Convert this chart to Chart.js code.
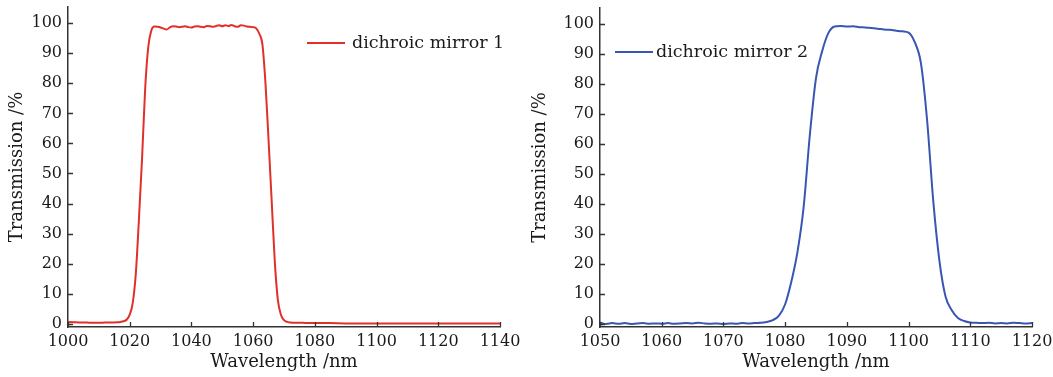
<!DOCTYPE html>
<html>
<head>
<meta charset="utf-8">
<script src="https://cdn.jsdelivr.net/npm/chart.js@4.4.1/dist/chart.umd.min.js"></script>
<style>
  html, body { margin: 0; padding: 0; background: #ffffff; }
  body { width: 1053px; height: 377px; position: relative; overflow: hidden; }
  #w1 { position: absolute; left: 0; top: 0; width: 525px; height: 377px; }
  #w2 { position: absolute; left: 525px; top: 0; width: 528px; height: 377px; }
</style>
</head>
<body>
<div id="w1"><canvas id="c1" width="525" height="377"></canvas></div>
<div id="w2"><canvas id="c2" width="528" height="377"></canvas></div>
<script>
// ---------- data ----------
const seriesLabel1 = "dichroic mirror 1";
const seriesLabel2 = "dichroic mirror 2";

const wavelength1 = [1000,1002,1004,1006,1008,1010,1012,1014,1016,
  1017,1018,1019,1020,1021,1022,1023,1024,1025,1026,1027,1028,1029,1030,
  1031,1032,1033,1034,1035,1036,1037,1038,1039,1040,1041,1042,1043,1044,
  1045,1046,1047,1048,1049,1050,1051,1052,1053,1054,1055,1056,1057,1058,
  1059,1060,1061,1062,1063,1064,1065,1066,1067,1068,1069,1070,1071,1072,
  1074,1076,1078,1080,1085,1090,1095,1100,1105,1110,1115,1120,1125,1130,1135,1140];
const transmission1 = [0.6,0.5,0.4,0.4,0.3,0.3,0.4,0.4,0.5,
  0.6,0.8,1.3,3,7,17,35,55,78,92,97.6,98.9,98.8,98.6,
  98.2,97.9,98.6,99.0,98.9,98.7,98.8,99.0,98.7,98.6,98.9,99.0,98.8,98.7,
  99.1,99.0,98.8,99.1,99.3,99.0,99.3,99.1,99.4,99.0,98.8,99.3,99.2,98.9,
  98.8,98.7,98.3,96.5,93,80,61,41,21,8,3,1.2,0.6,0.4,
  0.3,0.3,0.2,0.2,0.2,0.1,0.1,0.1,0.1,0.1,0.1,0.1,0.1,0.1,0.1,0.1];

const wavelength2 = [1050,1051,1052,1053,1054,1055,1056,1057,1058,1059,
  1060,1061,1062,1063,1064,1065,1066,1067,1068,1069,
  1070,1071,1072,1073,1074,1075,1076,1077,1078,1079,
  1080,1081,1082,1083,1084,1085,1086,1087,1088,1089,
  1090,1091,1092,1093,1094,1095,1096,1097,1098,1099,
  1100,1101,1102,1103,1104,1105,1106,1107,1108,1109,
  1110,1111,1112,1113,1114,1115,1116,1117,1118,1119,1120];
const transmission2 = [0.4,-0.1,0.2,0.0,0.2,-0.1,0.1,0.2,0.0,0.1,
  0.0,0.2,0.0,0.1,0.2,0.1,0.3,0.1,0.0,0.1,
  -0.1,0.1,0.0,0.2,0.1,0.2,0.3,0.6,1.2,2.7,
  6.5,14,24,39,63,82,91,97,99.2,99.4,
  99.2,99.3,99.0,98.9,98.7,98.5,98.2,98.1,97.8,97.6,
  97.2,94,87,68,41,21,9,4.5,1.9,0.9,
  0.4,0.3,0.2,0.3,0.1,0.2,0.1,0.3,0.2,0.1,0.2];

const yTickValues = [0,10,20,30,40,50,60,70,80,90,100];
const xTickValues1 = [1000,1020,1040,1060,1080,1100,1120,1140];
const xTickValues2 = [1050,1060,1070,1080,1090,1100,1110,1120];

const xTitle = "Wavelength /nm";
const yTitle = "Transmission /%";

// ---------- styling ----------
const FONT = "'DejaVu Serif', 'Liberation Serif', serif";
const TEXT = "#1a1a1a";
const AXIS = "#333333";

const insideTicks = {
  id: 'insideTicks',
  afterDraw(chart, args, opts) {
    const ctx = chart.ctx, a = chart.chartArea;
    const xs = chart.scales.x, ys = chart.scales.y;
    ctx.save();
    ctx.strokeStyle = opts.color; ctx.lineWidth = opts.width;
    ctx.beginPath();
    xs.ticks.forEach(t => {
      const px = Math.round(xs.getPixelForValue(t.value)) + 0.5;
      ctx.moveTo(px, a.bottom); ctx.lineTo(px, a.bottom - opts.length);
    });
    ys.ticks.forEach(t => {
      const py = Math.round(ys.getPixelForValue(t.value)) + 0.5;
      ctx.moveTo(a.left, py); ctx.lineTo(a.left + opts.length, py);
    });
    ctx.stroke();
    ctx.restore();
  }
};

const insetLegend = {
  id: 'insetLegend',
  afterDraw(chart, args, opts) {
    const ctx = chart.ctx, a = chart.chartArea;
    const ds = chart.data.datasets[0];
    const x0 = a.left + opts.x, y0 = a.top + opts.y;
    ctx.save();
    ctx.strokeStyle = ds.borderColor; ctx.lineWidth = 2;
    ctx.beginPath(); ctx.moveTo(x0, y0); ctx.lineTo(x0 + opts.len, y0); ctx.stroke();
    ctx.fillStyle = TEXT;
    ctx.font = "17.5px " + FONT;
    ctx.textBaseline = 'middle'; ctx.textAlign = 'left';
    ctx.fillText(ds.label, x0 + opts.len + opts.gap, y0);
    ctx.restore();
  }
};

function makeChart(id, xs, ys, label, color, xTicks, xmin, xmax, yAxisWidth, padRight, topPad, legendPos, yTitlePad) {
  const pts = xs.map((x, i) => ({ x: x, y: ys[i] }));
  return new Chart(document.getElementById(id), {
    type: 'line',
    data: { datasets: [{
      label: label, data: pts, borderColor: color, borderWidth: 2,
      pointRadius: 0, fill: false, cubicInterpolationMode: 'monotone'
    }]},
    plugins: [insideTicks, insetLegend],
    options: {
      responsive: false, animation: false, events: [],
      layout: { padding: { left: 0, right: padRight, top: topPad, bottom: 0 } },
      plugins: {
        legend: { display: false }, tooltip: { enabled: false },
        insideTicks: { color: AXIS, width: 1.3, length: 5 },
        insetLegend: legendPos
      },
      scales: {
        x: {
          type: 'linear', min: xmin, max: xmax,
          grid: { display: true, drawOnChartArea: false, drawTicks: false },
          border: { display: true, color: AXIS, width: 1.5 },
          afterBuildTicks: s => { s.ticks = xTicks.map(v => ({ value: v })); },
          afterFit: s => { s.height = 50; s.paddingLeft = 0; s.paddingRight = 0; },
          ticks: { color: TEXT, padding: 5, maxRotation: 0, autoSkip: false,
                   font: { family: FONT, size: 16 }, callback: v => String(v) },
          title: { display: true, text: xTitle, color: TEXT,
                   font: { family: FONT, size: 18 }, padding: { top: 0, bottom: 4 } }
        },
        y: {
          type: 'linear', min: -1.1, max: 105.4,
          grid: { display: true, drawOnChartArea: false, drawTicks: false },
          border: { display: true, color: AXIS, width: 1.5 },
          afterBuildTicks: s => { s.ticks = yTickValues.map(v => ({ value: v })); },
          afterFit: s => { s.width = yAxisWidth; s.paddingTop = 0; s.paddingBottom = 0; },
          ticks: { color: TEXT, padding: 6, font: { family: FONT, size: 16 },
                   callback: v => String(v) },
          title: { display: true, text: yTitle, color: TEXT,
                   font: { family: FONT, size: 18 }, padding: { top: yTitlePad, bottom: 0 } }
        }
      }
    }
  });
}

makeChart('c1', wavelength1, transmission1, seriesLabel1, '#e0302a',
  xTickValues1, 1000, 1140, 68, 25, 7, { x: 239, y: 36, len: 38, gap: 7 }, 7);
makeChart('c2', wavelength2, transmission2, seriesLabel2, '#3856b2',
  xTickValues2, 1050, 1120, 75, 21, 8, { x: 15, y: 44, len: 38, gap: 3 }, 5);
</script>
</body>
</html>
